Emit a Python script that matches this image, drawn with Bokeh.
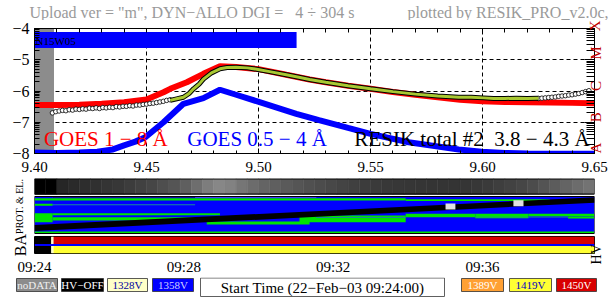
import numpy as np
from bokeh.plotting import figure
from bokeh.layouts import column, row
from bokeh.models import Range1d, LinearAxis, FixedTicker, Label, NumeralTickFormatter
from bokeh.core.properties import value
from bokeh.embed import file_html
from bokeh.resources import INLINE

# ---------------- data ----------------
t_start, t_end = 9.40, 9.65            # hours UT
lg_min, lg_max = -8.0, -4.0            # log flux

goes_long_t = [9.400, 9.410, 9.420, 9.430, 9.440, 9.450, 9.4576, 9.4606, 9.468, 9.4754, 9.4828,
               9.490, 9.500, 9.5124, 9.5228, 9.530, 9.540, 9.550, 9.560, 9.570, 9.580, 9.590,
               9.600, 9.610, 9.620, 9.630, 9.640, 9.650]
goes_long_v = [-6.45, -6.45, -6.44, -6.41, -6.36, -6.27, -6.04, -5.93, -5.72, -5.45, -5.21,
               -5.23, -5.30, -5.48, -5.63, -5.72, -5.83, -5.93, -6.03, -6.12, -6.20, -6.28,
               -6.33, -6.35, -6.36, -6.37, -6.38, -6.39]

goes_short_t = [9.400, 9.410, 9.420, 9.428, 9.435, 9.440, 9.445, 9.4495, 9.4576, 9.4606, 9.4665,
                9.4754, 9.4828, 9.490, 9.4998, 9.5169, 9.527, 9.540, 9.550, 9.567, 9.5894,
                9.5996, 9.610, 9.620, 9.630, 9.640, 9.650]
goes_short_v = [-7.97, -7.98, -7.97, -7.94, -7.87, -7.74, -7.62, -7.48, -7.00, -6.80, -6.41,
                -6.23, -5.96, -6.12, -6.34, -6.73, -6.93, -7.18, -7.37, -7.64, -7.87,
                -7.94, -7.98, -8.00, -8.01, -8.01, -8.01]

resik_pre_t = [9.4080, 9.4095, 9.4110, 9.4125, 9.4140, 9.4155, 9.4170, 9.4185, 9.4200, 9.4215,
               9.4230, 9.4245, 9.4260, 9.4275, 9.4290, 9.4305, 9.4320, 9.4335, 9.4350, 9.4365,
               9.4380, 9.4395, 9.4410, 9.4425, 9.4440, 9.4455, 9.4470, 9.4485, 9.4500, 9.4515,
               9.4530, 9.4545, 9.4560, 9.4575, 9.4590, 9.4605]
resik_pre_v = [-6.70, -6.66, -6.64, -6.62, -6.63, -6.60, -6.61, -6.58, -6.59, -6.57,
               -6.58, -6.55, -6.56, -6.54, -6.56, -6.53, -6.54, -6.52, -6.53, -6.50,
               -6.51, -6.49, -6.49, -6.47, -6.48, -6.45, -6.45, -6.43, -6.42, -6.40,
               -6.39, -6.37, -6.35, -6.33, -6.30, -6.28]

resik_t = [9.4606, 9.4635, 9.4665, 9.469, 9.471, 9.4735, 9.4754, 9.479, 9.4828, 9.486, 9.490,
           9.495, 9.4998, 9.505, 9.5124, 9.518, 9.5228, 9.530, 9.540, 9.550, 9.560, 9.570,
           9.580, 9.5894, 9.595, 9.6005, 9.605, 9.610, 9.615, 9.620, 9.625]
resik_v = [-6.30, -6.25, -6.20, -6.08, -5.93, -5.78, -5.62, -5.42, -5.29, -5.25, -5.24,
           -5.26, -5.31, -5.38, -5.48, -5.56, -5.63, -5.72, -5.83, -5.93, -6.02, -6.10,
           -6.16, -6.20, -6.20, -6.22, -6.24, -6.24, -6.23, -6.24, -6.23]

resik_post_t = [9.6250, 9.6265, 9.6280, 9.6295, 9.6310, 9.6325, 9.6340, 9.6355, 9.6370, 9.6385,
                9.6400, 9.6415, 9.6430, 9.6445, 9.6460, 9.6475]
resik_post_v = [-6.24, -6.23, -6.22, -6.21, -6.20, -6.19, -6.17, -6.16, -6.15, -6.13,
                -6.12, -6.10, -6.08, -6.05, -6.02, -5.99]

flare_name = "N15W05"
flare_t0, flare_t1 = [9.400], [9.517]
flare_lo, flare_hi = [-4.62], [-4.11]

nodata_t0, nodata_t1 = [9.400], [9.4087]

# particle-background strip (grey level 0..255)
strip_edges = [9.400, 9.405, 9.410, 9.415, 9.420, 9.425, 9.430, 9.435, 9.440, 9.445, 9.450,
               9.455, 9.460, 9.465, 9.470, 9.475, 9.480, 9.485, 9.490, 9.495, 9.500,
               9.505, 9.510, 9.515, 9.520, 9.525, 9.530, 9.535, 9.540, 9.545, 9.550,
               9.555, 9.560, 9.565, 9.570, 9.575, 9.580, 9.585, 9.590, 9.595, 9.600,
               9.605, 9.610, 9.615, 9.620, 9.625, 9.630, 9.635, 9.640, 9.645, 9.650]
strip_gray = [0, 0, 38, 42, 45, 48, 52, 55, 60, 65,
              70, 78, 85, 95, 110, 125, 135, 130, 118, 108,
              100, 95, 90, 85, 80, 76, 72, 68, 64, 60,
              58, 56, 55, 54, 53, 52, 52, 52, 53, 55,
              58, 62, 66, 70, 76, 84, 92, 100, 108, 115]

# PROT. & EL. channel panel (channel 0 = top); kinds: g green, t teal, p pale, n navy
n_chan = 37
band_t0 = [9.4081, 9.4081, 9.400, 9.5657, 9.400, 9.4081, 9.400, 9.4081, 9.4081, 9.4769,
           9.5183, 9.5258, 9.5657, 9.5968, 9.5968, 9.6205, 9.6205, 9.6382, 9.400]
band_t1 = [9.5258, 9.4717, 9.5657, 9.630, 9.4081, 9.4717, 9.4081, 9.4828, 9.4769, 9.5228,
           9.5657, 9.5657, 9.5968, 9.6205, 9.6205, 9.650, 9.6382, 9.650, 9.650]
band_c0 = [0.0, 0.7, 1.7, 2.7, 7.3, 7.8, 16.7, 16.7, 20.7, 25.0,
           19.0, 20.5, 17.3, 17.3, 20.3, 17.3, 20.0, 20.0, 35.0]
band_c1 = [0.7, 1.7, 4.0, 4.5, 9.3, 8.8, 25.7, 18.7, 24.0, 28.0,
           25.7, 21.5, 20.7, 21.7, 21.0, 19.7, 21.0, 22.0, 36.5]
band_kind = ["p", "n", "g", "g", "g", "t", "g", "g", "g", "g",
             "g", "t", "g", "g", "t", "g", "t", "g", "g"]
diag_t = [9.400, 9.650]
diag_c0 = [28.5, 0.8]
diag_c1 = [34.5, 6.2]
gap_t0, gap_t1 = [9.5835, 9.6138], [9.5879, 9.6183]
gap_c0, gap_c1 = [7.0, 3.7], [13.0, 9.7]

# HV status rows
hv_t0 = [9.400, 9.4075, 9.4085]
hv_t1 = [9.4075, 9.4085, 9.650]
hv_row_a = ["HV-OFF", "1328V", "1450V"]
hv_row_b = ["HV-OFF", "1328V", "1419V"]

time_ticks = [9.4, 9.4666667, 9.5333333, 9.6]
time_labels = ["09:24", "09:28", "09:32", "09:36"]

legend_keys = ["noDATA", "HV-OFF", "1328V", "1358V", "1389V", "1419V", "1450V"]
legend_text = ["noDATA", "HV\u2212OFF", "1328V", "1358V", "1389V", "1419V", "1450V"]
start_text = "Start Time (22\u2212Feb\u221203 09:24:00)"
NB = "\u00a0"
title_left = "Upload ver = \"m\", DYN\u2212ALLO DGI =" + NB * 3 + "4 \u00f7 304 s"
title_right = "plotted by RESIK_PRO_v2.0c,"

# ---------------- styles ----------------
SERIF = "Liberation Serif"
status_fill = {"noDATA": "#8c8c8c", "HV-OFF": "#000000", "1328V": "#ffffc8", "1358V": "#0000ff",
               "1389V": "#ffa033", "1419V": "#ffff33", "1450V": "#d80000"}
status_text = {"noDATA": "#f0f0f0", "HV-OFF": "#ffffff", "1328V": "#0000a0", "1358V": "#d0d0ff",
               "1389V": "#ffffff", "1419V": "#0000c0", "1450V": "#ffffff"}
kind_color = {"g": "#00e400", "t": "#1a8a9a", "p": "#ffe0f0", "n": "#000090"}

W = 614
LEFT, FRAME_W = 34, 562
RIGHT = W - LEFT - FRAME_W


def blank_axis(label, size, standoff):
    ax = LinearAxis(ticker=FixedTicker(ticks=[]), axis_label=label, axis_label_text_font=SERIF,
                    axis_label_text_font_size=size, axis_label_text_font_style="normal",
                    axis_label_text_color="black", axis_label_standoff=standoff,
                    axis_line_color=None, major_tick_line_color=None, minor_tick_line_color=None,
                    major_label_text_font_size="10px")
    return ax


# ---------------- header ----------------
hd = figure(width=W, height=20, x_range=Range1d(0, W), y_range=Range1d(20, 0),
            output_backend="svg", toolbar_location=None, x_axis_location=None, y_axis_location=None,
            min_border_left=0, min_border_right=0, min_border_top=0, min_border_bottom=0)
hd.grid.visible = False
hd.outline_line_color = None
hd.text(x=[29], y=[12], text=[title_left], text_font=value(SERIF), text_font_size=value("16px"),
        text_color="#9a9a9a", text_align="left", text_baseline="middle")
hd.text(x=[608], y=[12], text=[title_right], text_font=value(SERIF), text_font_size=value("16px"),
        text_color="#9a9a9a", text_align="right", text_baseline="middle")

# ---------------- main GOES / RESIK panel ----------------
p = figure(width=W, height=158, x_range=Range1d(t_start, t_end), y_range=Range1d(lg_min, lg_max),
           output_backend="svg", toolbar_location=None,
           min_border_left=LEFT, min_border_right=RIGHT, min_border_top=8, min_border_bottom=25)
p.outline_line_color = "black"

major_x = [9.40, 9.45, 9.50, 9.55, 9.60, 9.65]
minor_x = [round(9.40 + 0.01 * i, 2) for i in range(26)]
major_y = [-8, -7, -6, -5, -4]
minor_y = [d + np.log10(k) for d in range(-8, -4) for k in range(2, 10)]

xb = p.below[0]
xb.ticker = FixedTicker(ticks=major_x, minor_ticks=minor_x)
xb.formatter = NumeralTickFormatter(format="0.00")
xt = LinearAxis(ticker=FixedTicker(ticks=[], minor_ticks=minor_x))
p.add_layout(xt, "above")
yl = p.left[0]
yl.ticker = FixedTicker(ticks=major_y, minor_ticks=minor_y)
yl.major_label_overrides = {v: "\u2212%d" % abs(v) for v in major_y}
yr = LinearAxis(ticker=FixedTicker(ticks=major_y, minor_ticks=minor_y),
                major_label_overrides={-8: "A", -7: "B", -6: "C", -5: "M", -4: "X"})
p.add_layout(yr, "right")

for ax in (xb, xt, yl, yr):
    ax.major_tick_out = 0
    ax.minor_tick_out = 0
    ax.major_tick_in = 5
    ax.minor_tick_in = 3
    ax.axis_line_color = "black"
    ax.major_tick_line_color = "black"
    ax.minor_tick_line_color = "black"
    ax.major_label_text_font = SERIF
    ax.major_label_text_color = "black"
xb.major_label_text_font_size = "15px"
xb.major_label_standoff = 8
xt.major_label_standoff = 0
xt.minor_tick_in = 4
yl.major_label_text_font_size = "16px"
yl.major_label_standoff = 5
yl.minor_tick_in = 5
yl.major_tick_in = 6
yr.major_label_text_font_size = "15px"
yr.major_label_text_color = "#c00000"
yr.major_label_orientation = np.pi / 2
yr.major_label_standoff = 1
yr.minor_tick_in = 8
yr.major_tick_in = 10

p.xgrid.ticker = FixedTicker(ticks=[9.45, 9.50, 9.55, 9.60])
p.ygrid.ticker = FixedTicker(ticks=[-7, -6, -5])
for gr in (p.xgrid[0], p.ygrid[0]):
    gr.grid_line_color = "black"
    gr.grid_line_dash = "4 3"
    gr.grid_line_width = 1

p.quad(left=nodata_t0, right=nodata_t1, bottom=[lg_min], top=[lg_max],
       fill_color="#8c8c8c", line_color=None)
p.quad(left=flare_t0, right=flare_t1, bottom=flare_lo, top=flare_hi,
       fill_color="#0000ff", line_color=None)
p.line(goes_long_t, goes_long_v, line_color="#ff0000", line_width=6)
p.line(goes_short_t, goes_short_v, line_color="#0000ff", line_width=6)
p.scatter(resik_pre_t, resik_pre_v, size=4.5, fill_color="white", line_color="black", line_width=0.8)
p.scatter(resik_post_t, resik_post_v, size=4.5, fill_color="white", line_color="black", line_width=0.8)
p.line(resik_t, resik_v, line_color="black", line_width=5)
p.line(resik_t, resik_v, line_color="#a8c832", line_width=3)

p.add_layout(Label(x=t_start, y=-4.40, x_offset=1, text=flare_name, text_font=SERIF,
                   text_font_size="11px", text_color="black", text_baseline="middle"))
for tx, txt, col in [(9.4042, "GOES 1 \u2212 8 \u00c5", "#ff0000"),
                     (9.4682, "GOES 0.5 \u2212 4 \u00c5", "#0000ff"),
                     (9.5428, "RESIK total #2" + NB + " 3.8 \u2212 4.3 \u00c5", "black")]:
    p.add_layout(Label(x=tx, y=-7.55, text=txt, text_font=SERIF, text_font_size="21px",
                       text_color=col, text_baseline="middle"))

# ---------------- strip + channel panel ----------------
H23 = 56
strip_top, strip_px, gap_px = 0, 16, 2
panel_top = strip_top + strip_px + gap_px
g = figure(width=W, height=H23, x_range=p.x_range, y_range=Range1d(H23 - panel_top, -panel_top),
           output_backend="svg", toolbar_location=None, x_axis_location=None, y_axis_location=None,
           min_border_left=LEFT, min_border_right=RIGHT, min_border_top=0, min_border_bottom=0)
g.extra_y_ranges = {"strip": Range1d(1 - (H23 - strip_top) / strip_px, 1 + strip_top / strip_px)}
g.grid.visible = False
g.outline_line_color = None
g.add_layout(blank_axis("PROT. & EL.", "10px", 10), "left")

strip_colors = ["#%02x%02x%02x" % (v, v, v) for v in strip_gray]
g.quad(left=strip_edges[:-1], right=strip_edges[1:], bottom=0, top=1, y_range_name="strip",
       fill_color=strip_colors, line_color=strip_colors, line_width=0.5)
g.quad(left=[t_start], right=[t_end], bottom=[0.03], top=[0.97], y_range_name="strip",
       fill_color=None, line_color="black", line_width=1)

g.quad(left=[t_start], right=[t_end], top=[0], bottom=[n_chan], fill_color="#0000ff", line_color=None)
g.quad(left=band_t0, right=band_t1, top=band_c0, bottom=band_c1,
       fill_color=[kind_color[kd] for kd in band_kind], line_color=None)
g.varea(x=diag_t, y1=diag_c0, y2=diag_c1, fill_color="black")
g.quad(left=gap_t0, right=gap_t1, top=gap_c0, bottom=gap_c1, fill_color="#e0e0e0", line_color=None)
g.quad(left=[t_start], right=[t_end], top=[0], bottom=[n_chan], fill_color=None,
       line_color="black", line_width=1)

# ---------------- HV panel ----------------
h = figure(width=W, height=43, x_range=p.x_range, y_range=Range1d(0, 2),
           output_backend="svg", toolbar_location=None, y_axis_location=None,
           min_border_left=LEFT, min_border_right=RIGHT, min_border_top=2, min_border_bottom=21)
h.grid.visible = False
h.outline_line_color = "black"
h.quad(left=hv_t0, right=hv_t1, bottom=1, top=2, fill_color=[status_fill[s] for s in hv_row_a],
       line_color=None)
h.quad(left=hv_t0, right=hv_t1, bottom=0, top=1, fill_color=[status_fill[s] for s in hv_row_b],
       line_color=None)
h.segment(x0=[t_start], x1=[t_end], y0=[1], y1=[1], line_color="#0000ff", line_width=2)
ha = h.below[0]
ha.ticker = FixedTicker(ticks=time_ticks)
ha.major_label_overrides = dict(zip(time_ticks, time_labels))
ha.major_tick_in = 0
ha.major_tick_out = 0
ha.minor_tick_in = 0
ha.minor_tick_out = 0
ha.axis_line_color = None
ha.major_label_standoff = 5
ha.major_label_text_font = SERIF
ha.major_label_text_font_size = "15px"
ha.major_label_text_color = "black"
h.add_layout(blank_axis("BA", "16px", 6), "left")
hv_axis = LinearAxis(ticker=FixedTicker(ticks=[1]), major_label_overrides={1: "HV"},
                     major_label_orientation=np.pi / 2, major_label_standoff=2,
                     major_label_text_font=SERIF, major_label_text_font_size="14px",
                     major_label_text_color="black", axis_line_color=None,
                     major_tick_line_color=None, minor_tick_line_color=None,
                     major_tick_in=0, major_tick_out=0)
h.add_layout(hv_axis, "right")

# ---------------- colour key row ----------------
k = figure(width=W, height=21, x_range=Range1d(0, W), y_range=Range1d(21, 0),
           output_backend="svg", toolbar_location=None, x_axis_location=None, y_axis_location=None,
           min_border_left=0, min_border_right=0, min_border_top=0, min_border_bottom=0)
k.grid.visible = False
k.outline_line_color = None
key_left = [16, 61, 107, 152, 461, 509, 556]
key_width = [41, 42, 40, 41, 42, 42, 40]
key_right = [a + b for a, b in zip(key_left, key_width)]
k.quad(left=key_left, right=key_right, top=[1] * 7, bottom=[14] * 7,
       fill_color=[status_fill[s] for s in legend_keys], line_color="#303030", line_width=0.8)
k.text(x=[(a + b) / 2 for a, b in zip(key_left, key_right)], y=[7.5] * 7, text=legend_text,
       text_color=[status_text[s] for s in legend_keys], text_font=value(SERIF),
       text_font_size=value("11px"), text_align="center", text_baseline="middle")
k.quad(left=[200], right=[444], top=[0.5], bottom=[19], fill_color="white", line_color="#606060",
       line_width=1)
k.text(x=[322], y=[10], text=[start_text], text_font=value(SERIF), text_font_size=value("15px"),
       text_color="black", text_align="center", text_baseline="middle")

layout = column(row(hd), p, g, h, row(k), spacing=0)
open("out.html", "w").write(file_html(layout, INLINE))
